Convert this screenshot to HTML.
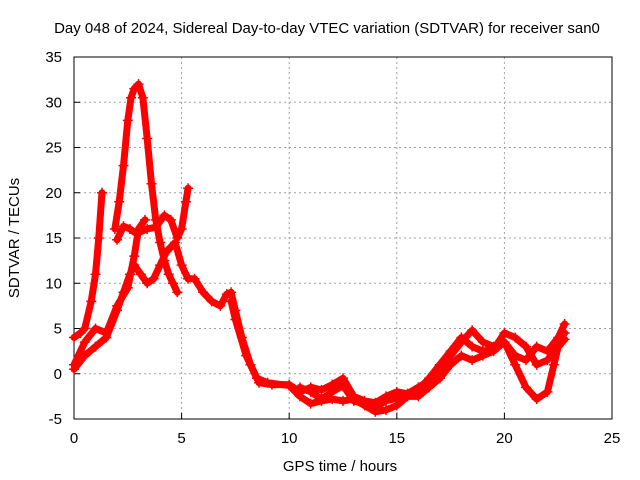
<!DOCTYPE html>
<html><head><meta charset="utf-8">
<style>
html,body{margin:0;padding:0;background:#fff;}
svg{display:block;font-family:"Liberation Sans",sans-serif;}
</style></head>
<body>
<svg id="chart" width="640" height="480" viewBox="0 0 640 480" xmlns="http://www.w3.org/2000/svg">
<text x="327" y="33" font-size="15" text-anchor="middle" fill="#000">Day 048 of 2024, Sidereal Day-to-day VTEC variation (SDTVAR) for receiver san0</text>
<g id="grid"></g>
<g id="axes"></g>
<g id="series"></g>
<text x="340" y="471" font-size="15" text-anchor="middle">GPS time / hours</text>
<text transform="translate(19,238) rotate(-90)" font-size="15" text-anchor="middle">SDTVAR / TECUs</text>
</svg>
<script>
const xTicks=[0,5,10,15,20,25];
const yTicks=[-5,0,5,10,15,20,25,30,35];
const trackA_t=[1.9,2.1,2.3,2.5,2.65,2.8,3.0,3.2,3.4,3.6,3.8,4.0,4.2,4.4,4.6,4.8];
const trackA_v=[16,19,23,28,30.5,31.5,32,30.5,26,21,17,14.5,12.5,11,10,9];
const trackB_t=[0,0.3,0.5,0.8,1.0,1.15,1.3];
const trackB_v=[4,4.5,5,8,11,15,20];
const trackC_t=[2.0,2.3,2.6,2.9,3.4,3.8,4.2,4.5,4.8,5.0,5.2,5.3];
const trackC_v=[14.8,16.3,16,15.5,16,16.2,17.5,17,15,16,19,20.5];
const trackD_t=[0,0.5,1,1.5,2.0,2.3,2.6,2.8,3.1,3.4,3.7,4.0,4.3,4.7,5.0,5.3,5.6,6.0,6.4,6.8,7.1,7.3,7.5,7.8,8.2,8.6,9.2,10,10.5,11,11.5,12,12.5,13,13.5,14,14.5,15,15.5,16,17,17.5,18,18.5,19,19.5,20,20.5,21,21.5,22,22.5,22.8];
const trackD_v=[0.5,2,3,4,7,9,11,12,11,10,10.5,12,13.5,14.5,12,10.5,10.5,9,8,7.5,8.8,9,7,4,1,-1,-1.2,-1.2,-2,-1.5,-1.8,-1.2,-0.5,-2.5,-3,-3.2,-2.5,-2,-2.2,-1.5,0,2,3.5,4.8,3.5,3,3.5,2,1.5,3,2.5,4,5.5];
const trackE_t=[0,0.5,1,1.5,2,2.5,2.8,3.0,3.3];
const trackE_v=[1,3.5,5,4.5,7.5,9.5,13,16,17];
const trackF_t=[7.3,7.5,8,8.5,9,10,10.5,11,11.5,12,12.5,13,13.5,14,14.5,15,15.5,16,16.5,17,17.5,18,18.5,19,19.5,20,20.5,21,21.5,22,22.3,22.6,22.8];
const trackF_v=[8,6,2,-0.5,-1,-1.3,-2.5,-3.3,-3,-2.8,-3,-2.8,-3.5,-4.2,-4,-3.5,-2.5,-2.5,-1.5,-0.5,1,2,1.5,2,2.5,3.5,1,-1.5,-2.8,-2,1,4,4.5];
const trackG_t=[10.5,11,11.5,12,12.5,13,14,14.5,15,16,16.5,17,17.5,18,18.5,19,19.5,20,20.5,21,21.5,22,22.5,22.8];
const trackG_v=[-1.5,-2,-2.8,-2,-1.3,-3,-3.7,-3,-2.7,-1.8,-0.5,1,2.5,4,3,2.5,2.7,4.5,4,3,1,1.5,3,3.8];
const tracks=[[trackA_t,trackA_v],[trackB_t,trackB_v],[trackC_t,trackC_v],[trackD_t,trackD_v],[trackE_t,trackE_v],[trackF_t,trackF_v],[trackG_t,trackG_v]];

const X0=74,X1=612,Y0=419,Y1=57;
const xs=t=>X0+(t-0)/25*(X1-X0);
const ys=v=>Y0-(v+5)/40*(Y0-Y1);
const NS="http://www.w3.org/2000/svg";
function mk(tag,attrs,parent){const e=document.createElementNS(NS,tag);for(const k in attrs)e.setAttribute(k,attrs[k]);parent.appendChild(e);return e;}
const grid=document.getElementById('grid'),axes=document.getElementById('axes'),series=document.getElementById('series');
xTicks.forEach(t=>{
  if(t>0&&t<25){const g=mk('line',{x1:xs(t),x2:xs(t),y1:Y1,y2:Y0,stroke:'#a0a0a0','stroke-dasharray':'2,3','stroke-width':1},grid);
  
  }
  const tk=mk('line',{x1:xs(t),x2:xs(t),y1:Y0,y2:Y0-6,stroke:'#000'},axes);
  
  
  const lb=mk('text',{x:xs(t),y:Y0+24,'font-size':15,'text-anchor':'middle'},axes);lb.textContent=t;
  
  
});
yTicks.forEach(v=>{
  if(v>-5&&v<35){const g=mk('line',{x1:X0,x2:X1,y1:ys(v),y2:ys(v),stroke:'#a0a0a0','stroke-dasharray':'2,3','stroke-width':1},grid);
  
  }
  const tk=mk('line',{x1:X0,x2:X0+6,y1:ys(v),y2:ys(v),stroke:'#000'},axes);
  
  
  const lb=mk('text',{x:X0-12,y:ys(v)+5,'font-size':15,'text-anchor':'end'},axes);lb.textContent=v;
  
  
});
const fr=mk('rect',{x:X0,y:Y1,width:X1-X0,height:Y0-Y1,fill:'none',stroke:'#000','stroke-width':1},axes);


tracks.forEach(([T,V])=>{
  const pts=T.map((t,i)=>xs(t)+','+ys(V[i])).join(' ');
  const pl=mk('polyline',{points:pts,fill:'none',stroke:'#ff0000','stroke-width':7,'stroke-linejoin':'round','stroke-linecap':'round'},series);
  
  
  T.forEach((t,i)=>{
    const x=xs(t),y=ys(V[i]);
    const p=mk('path',{d:`M${x-5},${y}H${x+5}M${x},${y-5}V${y+5}`,stroke:'#ff0000','stroke-width':1.5},series);
    
    
  });
});
</script>
</body></html>
